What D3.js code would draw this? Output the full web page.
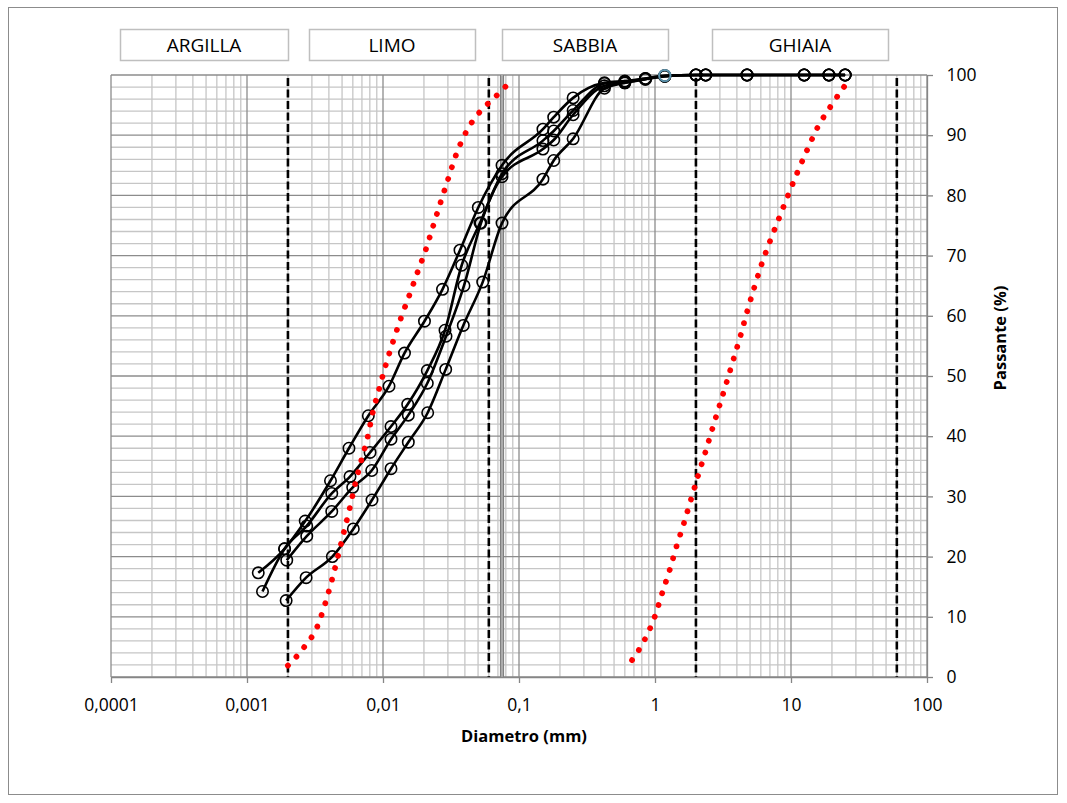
<!DOCTYPE html>
<html>
<head>
<meta charset="utf-8">
<script src="https://cdn.jsdelivr.net/npm/d3@7"></script>
<style>
    body { margin: 0; background: #fff; }
    svg text { font-family: 'Open Sans', sans-serif; }
</style>
</head>
<body>
<div id="chart-area"></div>
<script>
'use strict';

// assi
const xTicks = [0.0001, 0.001, 0.01, 0.1, 1, 10, 100];
const xTickLabels = ['0,0001', '0,001', '0,01', '0,1', '1', '10', '100'];
const yTicks = [0, 10, 20, 30, 40, 50, 60, 70, 80, 90, 100];

// classi granulometriche e limiti (mm)
const classi = ['ARGILLA', 'LIMO', 'SABBIA', 'GHIAIA'];
const limitiClassi = [0.002, 0.06, 2, 60];
const setaccio200 = 0.075;

// campioni: diametro (mm) e passante (%)
const diam1 = [0.00121, 0.00189, 0.00268, 0.00411, 0.00562, 0.0078, 0.01107, 0.01439, 0.02018, 0.02738, 0.03682, 0.0502,
    0.075, 0.15, 0.18, 0.25, 0.425, 0.6, 0.85, 1.18, 2, 2.36, 4.75, 12.5, 19, 25];
const pass1 = [17.3, 21.3, 25.9, 32.6, 38.0, 43.4, 48.3, 53.8, 59.1, 64.4, 70.9, 78.0,
    85.0, 91.0, 93.0, 96.2, 98.7, 99.0, 99.4, 99.9, 100, 100, 100, 100, 100, 100];

const diam2 = [0.0013, 0.00189, 0.00275, 0.0042, 0.00572, 0.00803, 0.01145, 0.01519, 0.02117, 0.02857, 0.0379, 0.05166,
    0.075, 0.15, 0.18, 0.25, 0.425, 0.6, 0.85, 1.18, 2, 2.36, 4.75, 12.5, 19, 25];
const pass2 = [14.2, 21.3, 25.1, 30.5, 33.3, 37.3, 41.6, 45.3, 50.9, 57.6, 68.4, 75.4,
    83.6, 89.1, 90.7, 94.1, 98.6, 98.9, 99.4, 99.8, 100, 100, 100, 100, 100, 100];

const diam3 = [0.00196, 0.00275, 0.0042, 0.00599, 0.00826, 0.01145, 0.01535, 0.02117, 0.02906, 0.0394, 0.05255,
    0.075, 0.15, 0.18, 0.25, 0.425, 0.6, 0.85, 1.18, 2, 2.36, 4.75, 12.5, 19, 25];
const pass3 = [19.4, 23.4, 27.5, 31.5, 34.3, 39.5, 43.5, 48.8, 56.6, 65.0, 75.4,
    83.1, 87.7, 89.2, 93.4, 98.2, 98.7, 99.3, 99.8, 100, 100, 100, 100, 100, 100];

const diam4 = [0.00194, 0.00272, 0.00424, 0.00605, 0.0083, 0.01145, 0.01535, 0.02131, 0.02891, 0.03893, 0.05409,
    0.075, 0.15, 0.18, 0.25, 0.425, 0.6, 0.85, 1.18, 2, 2.36, 4.75, 12.5, 19, 25];
const pass4 = [12.7, 16.5, 20.0, 24.6, 29.4, 34.6, 39.0, 43.9, 51.1, 58.4, 65.6,
    75.4, 82.7, 85.8, 89.4, 97.8, 98.7, 99.3, 99.8, 100, 100, 100, 100, 100, 100];

const evidD = [1.18];
const evidP = [99.9];

// fuso di riferimento (curve rosse)
const fusoSxD = [0.002, 0.00264, 0.00329, 0.00377, 0.00422, 0.00467, 0.00516, 0.00569, 0.00625, 0.00695, 0.00772,
    0.0084, 0.00935, 0.01047, 0.01185, 0.01349, 0.01561, 0.01799, 0.02071, 0.02344, 0.02656, 0.0302, 0.03441,
    0.03701, 0.04056, 0.04489, 0.0508, 0.05887, 0.06855, 0.07984];
const fusoSxP = [1.9, 5.0, 8.4, 12.3, 16.2, 20.1, 24.1, 28.0, 32.1, 36.1, 39.9,
    43.9, 47.8, 51.8, 55.7, 59.5, 63.4, 67.3, 71.1, 75.0, 78.9, 82.8, 86.7,
    88.5, 90.4, 92.1, 93.7, 95.2, 96.6, 98.1];

const fusoDxD = [0.678, 0.844, 0.995, 1.132, 1.283, 1.444, 1.634, 1.84, 2.071, 2.344, 2.639, 2.991,
    3.366, 3.79, 4.267, 4.771, 5.372, 6.089, 7.009, 8.161, 9.505, 11.13, 13.12, 15.61, 19.45, 24.66];
const fusoDxP = [2.8, 6.3, 10.0, 14.0, 17.8, 21.8, 25.6, 29.5, 33.4, 37.3, 41.2, 45.2,
    49.0, 52.9, 56.8, 60.8, 64.7, 68.6, 72.4, 76.2, 80.0, 83.8, 87.5, 91.2, 94.7, 98.1];

// layout
const W = 1067, H = 803;
const plot = { left: 111, right: 927, top: 75, bottom: 677 };
const boxes = [[120, 288], [309, 475], [502, 668], [712, 888]];

let svg = d3.select('#chart-area').append('svg')
    .attr('width', W)
    .attr('height', H);

svg.append('rect')
    .attr('x', 8.5).attr('y', 7.5)
    .attr('width', 1049).attr('height', 787)
    .attr('fill', '#fff')
    .attr('stroke', '#8c8c8c')
    .attr('stroke-width', 1);

let x = d3.scaleLog()
    .domain([xTicks[0], xTicks[xTicks.length - 1]])
    .range([plot.left, plot.right]);

let y = d3.scaleLinear()
    .domain([0, 100])
    .range([plot.bottom, plot.top]);

// griglia
let minorX = [];
xTicks.slice(0, -1).forEach((t) => {
    for (let k = 2; k <= 9; k++) minorX.push(t * k);
});
let minorY = d3.range(2, 100, 2).filter((v) => v % 10 !== 0);

let grid = svg.append('g');
grid.selectAll('.vmin').data(minorX).enter()
    .append('line')
        .attr('x1', (d) => x(d)).attr('x2', (d) => x(d))
        .attr('y1', plot.top).attr('y2', plot.bottom)
        .attr('stroke', '#c6c6c6').attr('stroke-width', 1.3);
grid.selectAll('.hmin').data(minorY).enter()
    .append('line')
        .attr('x1', plot.left).attr('x2', plot.right)
        .attr('y1', (d) => y(d)).attr('y2', (d) => y(d))
        .attr('stroke', '#c6c6c6').attr('stroke-width', 1.3);
grid.selectAll('.vmaj').data(xTicks).enter()
    .append('line')
        .attr('x1', (d) => x(d)).attr('x2', (d) => x(d))
        .attr('y1', plot.top).attr('y2', plot.bottom)
        .attr('stroke', '#8c8c8c').attr('stroke-width', 1.3);
grid.selectAll('.hmaj').data(yTicks).enter()
    .append('line')
        .attr('x1', plot.left).attr('x2', plot.right)
        .attr('y1', (d) => y(d)).attr('y2', (d) => y(d))
        .attr('stroke', '#8c8c8c').attr('stroke-width', 1.3);

// setaccio 0,075
svg.append('line')
    .attr('x1', x(setaccio200)).attr('x2', x(setaccio200))
    .attr('y1', plot.top).attr('y2', plot.bottom)
    .attr('stroke', '#808080').attr('stroke-width', 4.2);
svg.append('line')
    .attr('x1', x(setaccio200)).attr('x2', x(setaccio200))
    .attr('y1', plot.top).attr('y2', plot.bottom)
    .attr('stroke', '#c8c8c8').attr('stroke-width', 1.2);

// curve dei campioni
let series = [[diam1, pass1], [diam2, pass2], [diam3, pass3], [diam4, pass4]].map((s) =>
    s[0].map((d, i) => [d, s[1][i]]));

let line = d3.line()
    .x((d) => x(d[0]))
    .y((d) => y(d[1]))
    .curve(d3.curveMonotoneX);

svg.selectAll('.campione').data(series).enter()
    .append('path')
        .attr('d', line)
        .attr('fill', 'none')
        .attr('stroke', '#000')
        .attr('stroke-width', 2.6)
        .attr('stroke-linejoin', 'round');

series.forEach((s) => {
    svg.append('g').selectAll('circle').data(s).enter()
        .append('circle')
            .attr('cx', (d) => x(d[0]))
            .attr('cy', (d) => y(d[1]))
            .attr('r', 5.7)
            .attr('fill', 'none')
            .attr('stroke', '#000')
            .attr('stroke-width', 1.6);
});

svg.selectAll('.evid').data(evidD).enter()
    .append('circle')
        .attr('cx', (d) => x(d))
        .attr('cy', (d, i) => y(evidP[i]))
        .attr('r', 5.7)
        .attr('fill', 'none')
        .attr('stroke', '#5b93ad')
        .attr('stroke-width', 2);

// limiti delle classi
svg.selectAll('.limite').data(limitiClassi).enter()
    .append('line')
        .attr('x1', (d) => x(d)).attr('x2', (d) => x(d))
        .attr('y1', plot.top + 3).attr('y2', plot.bottom)
        .attr('stroke', '#000')
        .attr('stroke-width', 2.6)
        .attr('stroke-dasharray', '8 3.5');

// fuso (punti rossi), passo regolato per chiudere con un punto
let fusi = [[fusoSxD, fusoSxP], [fusoDxD, fusoDxP]].map((s) =>
    s[0].map((d, i) => [d, s[1][i]]));

svg.selectAll('.fuso').data(fusi).enter()
    .append('path')
        .attr('d', line)
        .attr('fill', 'none')
        .attr('stroke', '#ff0000')
        .attr('stroke-width', 5.8)
        .attr('stroke-linecap', 'round')
        .each(function() {
            let len = this.getTotalLength();
            let step = (len - 0.5) / Math.round(len / 12.3);
            d3.select(this).attr('stroke-dasharray', `0.01 ${step - 0.01}`);
        });

// assi
let xAxis = svg.append('g')
    .attr('transform', `translate(0,${plot.bottom})`)
    .call(d3.axisBottom(x)
        .tickValues(xTicks)
        .tickFormat((d, i) => xTickLabels[i])
        .tickSizeInner(6)
        .tickSizeOuter(0)
        .tickPadding(15.5));

let yAxis = svg.append('g')
    .attr('transform', `translate(${plot.right},0)`)
    .call(d3.axisRight(y)
        .tickValues(yTicks)
        .tickSizeInner(6)
        .tickSizeOuter(0)
        .tickPadding(13.5));

[xAxis, yAxis].forEach((a) => {
    a.attr('font-family', "'Open Sans', sans-serif").attr('font-size', 17.5);
    a.selectAll('path, line').attr('stroke', '#868686').attr('stroke-width', 1.3);
    a.selectAll('text').attr('fill', '#000');
});

svg.append('text')
    .attr('x', (plot.left + plot.right) / 2 + 5)
    .attr('y', 742)
    .attr('text-anchor', 'middle')
    .attr('font-size', 16.5)
    .attr('font-weight', 'bold')
    .text('Diametro (mm)');

svg.append('text')
    .attr('transform', 'translate(1006,338) rotate(-90)')
    .attr('text-anchor', 'middle')
    .attr('font-size', 16.5)
    .attr('font-weight', 'bold')
    .text('Passante (%)');

// etichette delle classi
let box = svg.selectAll('.classe').data(classi).enter()
    .append('g');

box.append('rect')
    .attr('x', (d, i) => boxes[i][0] + 0.5)
    .attr('y', 29.5)
    .attr('width', (d, i) => boxes[i][1] - boxes[i][0])
    .attr('height', 31)
    .attr('fill', '#fff')
    .attr('stroke', '#bfbfbf')
    .attr('stroke-width', 1.5);

box.append('text')
    .attr('x', (d, i) => (boxes[i][0] + boxes[i][1]) / 2)
    .attr('y', 52.3)
    .attr('text-anchor', 'middle')
    .attr('font-size', 19)
    .attr('fill', '#000')
    .text((d) => d);
</script>
</body>
</html>
